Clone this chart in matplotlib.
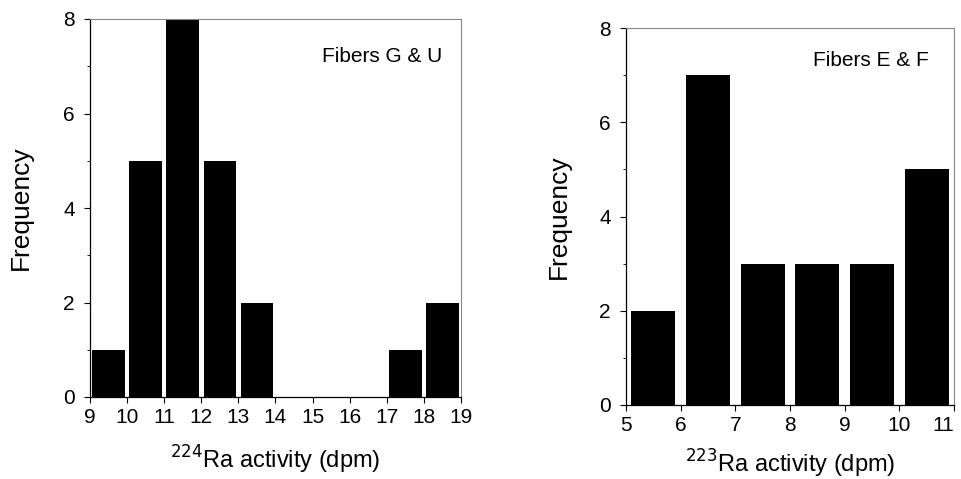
import matplotlib.pyplot as plt
from matplotlib.ticker import MultipleLocator

plt.rcParams['font.family'] = ['Liberation Sans', 'DejaVu Sans']

# Fibers G & U, 224Ra histogram (bin left edges and counts)
gu_bins = [9, 10, 11, 12, 13, 17, 18]
gu_counts = [1, 5, 8, 5, 2, 1, 2]

# Fibers E & F, 223Ra histogram
ef_bins = [5, 6, 7, 8, 9, 10]
ef_counts = [2, 7, 3, 3, 3, 5]

fig = plt.figure(figsize=(9.62, 4.79), dpi=100)
ax1 = fig.add_axes([90/962, 1-397/479, 371/962, 378/479])
ax2 = fig.add_axes([626/962, 1-405/479, 328/962, 377/479])

def style(ax, xlo, xhi):
    ax.set_xlim(xlo, xhi)
    ax.set_ylim(0, 8)
    ax.set_xticks(range(xlo, xhi + 1))
    ax.set_yticks([0, 2, 4, 6, 8])
    ax.yaxis.set_minor_locator(MultipleLocator(1))
    ax.tick_params(axis='both', which='major', direction='out', length=4,
                   width=0.8, labelsize=15, top=False, right=False)
    ax.tick_params(axis='x', pad=4)
    ax.tick_params(axis='y', pad=7)
    ax.tick_params(axis='y', which='minor', direction='out', length=2, width=0.6)
    for s in ['top', 'right']:
        ax.spines[s].set_color('#888888')
        ax.spines[s].set_linewidth(0.8)
    for s in ['left', 'bottom']:
        ax.spines[s].set_linewidth(0.9)

ax1.bar([b + 0.5 for b in gu_bins], gu_counts, width=0.88, color='black')
style(ax1, 9, 19)
ax1.set_ylabel('Frequency', fontsize=19, labelpad=22)
ax1.set_xlabel('$^{224}$Ra activity (dpm)', fontsize=17, labelpad=12)
ax1.text(0.95, 0.9, 'Fibers G & U', transform=ax1.transAxes, ha='right',
         va='center', fontsize=15)

ax2.bar([b + 0.5 for b in ef_bins], ef_counts, width=0.8, color='black')
style(ax2, 5, 11)
ax2.set_ylabel('Frequency', fontsize=19, labelpad=20)
ax2.set_xlabel('$^{223}$Ra activity (dpm)', fontsize=17, labelpad=9)
ax2.text(0.924, 0.915, 'Fibers E & F', transform=ax2.transAxes, ha='right',
         va='center', fontsize=15)
# keep the last tick label inside the figure edge
ax2.get_xticklabels()[-1].set_horizontalalignment('right')
ax2.get_xticklabels()[-1].set_x(11.08)

plt.savefig('out.png', dpi=100)
